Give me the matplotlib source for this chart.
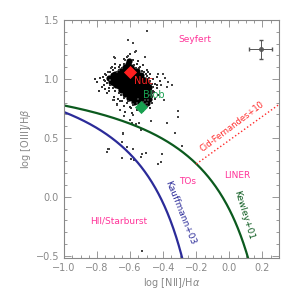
import numpy as np
import matplotlib
matplotlib.use('Agg')
import matplotlib.pyplot as plt
from matplotlib.ticker import MultipleLocator

# demarcation lines (published coefficients)
kauff = (0.61, 0.05, 1.30)   # Kauffmann+03
kewley = (0.61, 0.47, 1.19)  # Kewley+01
cid = (1.01, 0.48)           # Cid-Fernandes+10

# dense core of the spaxel cloud
core_x = [-0.615, -0.605, -0.630, -0.612, -0.592,
          -0.660, -0.642, -0.624, -0.600, -0.580, -0.560,
          -0.705, -0.690, -0.670, -0.648, -0.624, -0.600, -0.576, -0.552, -0.535,
          -0.730, -0.712, -0.695, -0.673, -0.648, -0.624, -0.600, -0.576, -0.552, -0.530, -0.512,
          -0.715, -0.700, -0.682, -0.661, -0.636, -0.612, -0.588, -0.564, -0.539, -0.518, -0.500,
          -0.685, -0.668, -0.648, -0.624, -0.600, -0.576, -0.552, -0.527, -0.505, -0.488,
          -0.655, -0.640, -0.620, -0.600, -0.576, -0.552, -0.527, -0.505, -0.485,
          -0.632, -0.614, -0.596, -0.576, -0.552, -0.527, -0.505, -0.485,
          -0.605, -0.588, -0.570, -0.548, -0.527, -0.505, -0.488,
          -0.575, -0.556, -0.535, -0.515, -0.498]
core_y = [1.130, 1.150, 1.105, 1.112, 1.100,
          1.070, 1.078, 1.072, 1.080, 1.074, 1.068,
          1.030, 1.045, 1.040, 1.044, 1.038, 1.046, 1.040, 1.036, 1.030,
          1.005, 1.012, 1.000, 1.010, 1.004, 1.008, 1.002, 1.010, 1.004, 1.000, 0.995,
          0.975, 0.968, 0.980, 0.972, 0.978, 0.970, 0.976, 0.968, 0.975, 0.970, 0.965,
          0.945, 0.938, 0.946, 0.940, 0.944, 0.936, 0.942, 0.938, 0.944, 0.935,
          0.910, 0.905, 0.912, 0.906, 0.910, 0.902, 0.908, 0.904, 0.900,
          0.875, 0.870, 0.878, 0.872, 0.876, 0.868, 0.874, 0.866,
          0.840, 0.836, 0.842, 0.835, 0.840, 0.838, 0.832,
          0.806, 0.810, 0.804, 0.808, 0.800]

# halo around the core
halo_x = [-0.80, -0.78, -0.77, -0.76, -0.75, -0.79, -0.74, -0.76, -0.73, -0.81,
          -0.71, -0.69, -0.66, -0.64, -0.62, -0.58, -0.56, -0.54, -0.52, -0.50, -0.60, -0.67, -0.55,
          -0.48, -0.46, -0.45, -0.44, -0.47, -0.43, -0.45, -0.49, -0.42, -0.44, -0.46,
          -0.70, -0.68, -0.66, -0.64, -0.62, -0.60, -0.58, -0.56, -0.54, -0.52, -0.50,
          -0.48, -0.47, -0.63, -0.59, -0.55, -0.51,
          -0.745, -0.735, -0.720, -0.705, -0.690, -0.680, -0.665, -0.650, -0.640, -0.575,
          -0.565, -0.545, -0.530, -0.515, -0.505, -0.495, -0.485, -0.478, -0.470, -0.462,
          -0.470, -0.480, -0.492, -0.510, -0.525, -0.545, -0.560, -0.585, -0.610, -0.640,
          -0.655, -0.670, -0.690, -0.705, -0.720, -0.740, -0.755, -0.765, -0.750, -0.728,
          -0.700, -0.675, -0.650, -0.595, -0.535, -0.500, -0.470, -0.455, -0.440, -0.520]
halo_y = [0.97, 1.01, 0.93, 0.99, 1.04, 0.90, 0.88, 0.95, 0.92, 1.00,
          1.10, 1.13, 1.12, 1.17, 1.19, 1.16, 1.13, 1.10, 1.12, 1.08, 1.21, 1.08, 1.15,
          1.04, 1.00, 0.96, 0.92, 0.88, 0.86, 0.83, 1.06, 0.98, 1.02, 0.90,
          0.82, 0.79, 0.81, 0.77, 0.80, 0.76, 0.78, 0.74, 0.79, 0.73, 0.77,
          0.75, 0.80, 0.72, 0.71, 0.83, 0.82,
          1.030, 1.055, 1.062, 1.075, 1.090, 1.060, 1.100, 1.095, 1.125, 1.120,
          1.095, 1.090, 1.065, 1.055, 1.040, 1.025, 1.010, 0.985, 0.960, 0.930,
          0.895, 0.860, 0.820, 0.790, 0.805, 0.780, 0.800, 0.785, 0.815, 0.840,
          0.860, 0.880, 0.900, 0.925, 0.950, 0.965, 0.980, 1.015, 0.915, 0.895,
          0.850, 0.830, 0.815, 0.750, 0.760, 0.800, 0.850, 0.885, 0.945, 0.725]

# isolated spaxels
out_x = [-0.497, -0.612, -0.582, -0.564, -0.697, -0.630, -0.612, -0.509, -0.430, -0.388,
         -0.370, -0.715, -0.733, -0.570, -0.691, -0.721, -0.679, -0.661, -0.703, -0.636,
         -0.582, -0.600, -0.642, -0.733, -0.618, -0.582, -0.400, -0.412, -0.345, -0.376,
         -0.394, -0.309, -0.309, -0.376, -0.285, -0.327, -0.588, -0.564, -0.545, -0.473,
         -0.533, -0.642, -0.648, -0.727, -0.739, -0.527, -0.503, -0.533, -0.648, -0.594,
         -0.576, -0.406, -0.412, -0.430, -0.527]
out_y = [1.407, 1.331, 1.305, 1.237, 1.186, 1.161, 1.195, 1.186, 1.042, 1.008,
         0.975, 1.093, 1.059, 1.229, 1.178, 0.992, 0.780, 0.737, 0.822, 0.686,
         0.695, 0.653, 0.542, 0.407, 0.424, 0.407, 1.042, 0.949, 0.949, 0.932,
         0.822, 0.729, 0.678, 0.627, 0.432, 0.542, 0.627, 0.619, 0.627, 0.644,
         0.568, 0.534, 0.466, 0.407, 0.381, 0.364, 0.373, 0.339, 0.331, 0.322,
         0.314, 0.364, 0.297, 0.280, -0.458]

nuc = (-0.60, 1.06)
blob = (-0.533, 0.763)
err_pt = (0.19, 1.25)
err_x, err_y = 0.07, 0.08

grey = '#888888'
pink = '#ff3399'

fig = plt.figure(figsize=(2.99, 2.99), dpi=100)
ax = fig.add_axes([0.214, 0.137, 0.719, 0.796])

ax.scatter(core_x, core_y, s=20, marker='o', color='black', lw=0)
ax.scatter(halo_x, halo_y, s=2.5, marker='s', color='#333333', lw=0)
ax.scatter(out_x, out_y, s=1.5, marker='s', color='#444444', lw=0)

x1 = np.linspace(-1.0, -0.285, 200)
ax.plot(x1, kauff[0] / (x1 - kauff[1]) + kauff[2], color='#2b2b99', lw=1.6)
x2 = np.linspace(-1.0, 0.113, 200)
ax.plot(x2, kewley[0] / (x2 - kewley[1]) + kewley[2], color='#0b5a1e', lw=1.6)
x3 = np.linspace(-0.2, 0.3, 50)
ax.plot(x3, cid[0] * x3 + cid[1], color='#ff2a2a', lw=1.0, ls=':')

ax.scatter([nuc[0]], [nuc[1]], s=45, marker='D', color='#ff2020', zorder=5, lw=0)
ax.scatter([blob[0]], [blob[1]], s=45, marker='D', color='#18a050', zorder=5, lw=0)
ax.text(-0.575, 0.985, 'Nuc', color='#ff2020', fontsize=7, va='center')
ax.text(-0.52, 0.86, 'Blob', color='#18a050', fontsize=7, va='center')

ax.errorbar([err_pt[0]], [err_pt[1]], xerr=err_x, yerr=err_y, color='#555555',
            fmt='o', ms=2.5, mfc='none', lw=0.7, capsize=1.5)

ax.text(-0.206, 1.339, 'Seyfert', color=pink, fontsize=6.5, ha='center', va='center')
ax.text(-0.255, 0.127, 'TOs', color=pink, fontsize=6.5, ha='center', va='center')
ax.text(0.048, 0.178, 'LINER', color=pink, fontsize=6.5, ha='center', va='center')
ax.text(-0.667, -0.203, 'HII/Starburst', color=pink, fontsize=6.5, ha='center', va='center')
ax.text(-0.297, -0.136, 'Kauffmann+03', color='#2b2b99', fontsize=6.5, ha='center',
        va='center', rotation=-68)
ax.text(0.085, -0.153, 'Kewley+01', color='#0b5a1e', fontsize=6.5, ha='center',
        va='center', rotation=-73)
ax.text(0.018, 0.593, 'Cid-Fernandes+10', color='#ff2a2a', fontsize=6, ha='center',
        va='center', rotation=37)

ax.set_xlim(-1.0, 0.3)
ax.set_ylim(-0.52, 1.5)
ax.xaxis.set_major_locator(MultipleLocator(0.2))
ax.xaxis.set_minor_locator(MultipleLocator(0.05))
ax.yaxis.set_major_locator(MultipleLocator(0.5))
ax.yaxis.set_minor_locator(MultipleLocator(0.1))
ax.tick_params(which='both', direction='in', top=True, right=True, colors=grey,
               labelsize=7, labelcolor=grey)
ax.tick_params(which='major', length=5, width=0.6)
ax.tick_params(which='minor', length=2.5, width=0.6)
for sp in ax.spines.values():
    sp.set_color(grey)
    sp.set_linewidth(0.8)
ax.set_xlabel(r'log [NII]/H$\alpha$', color=grey, fontsize=7, labelpad=2)
ax.set_ylabel(r'log [OIII]/H$\beta$', color=grey, fontsize=7, labelpad=2)

fig.savefig('out.png', dpi=100)
